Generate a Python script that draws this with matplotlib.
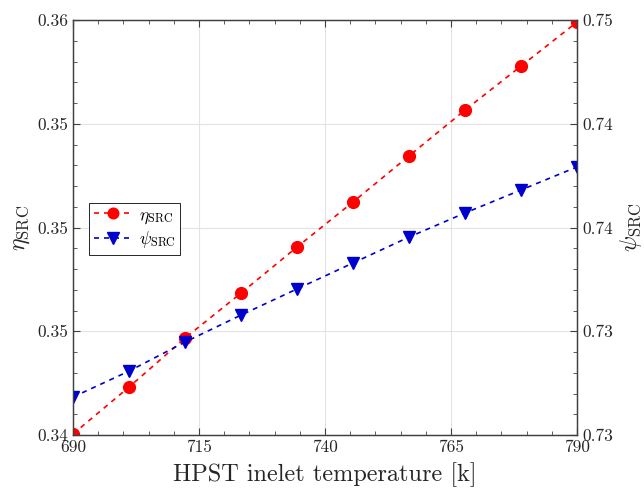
import matplotlib.pyplot as plt
import numpy as np
from matplotlib.ticker import MultipleLocator

plt.rcParams['font.family'] = ['cmr10', 'DejaVu Serif']
plt.rcParams['mathtext.fontset'] = 'cm'
plt.rcParams['axes.formatter.use_mathtext'] = True

# data
temp = np.linspace(690, 790, 10)
eta = [0.34005, 0.34231, 0.34467, 0.34684, 0.34906,
       0.35123, 0.35345, 0.35566, 0.35778, 0.35990]
psi = [0.73183, 0.73308, 0.73448, 0.73578, 0.73704,
       0.73829, 0.73954, 0.74070, 0.74181, 0.74292]

x_ticks = [690, 715, 740, 765, 790]
eta_ticks = [0.340, 0.345, 0.350, 0.355, 0.360]
eta_labels = ['0.34', '0.35', '0.35', '0.35', '0.36']
psi_ticks = [0.730, 0.735, 0.740, 0.745, 0.750]
psi_labels = ['0.73', '0.73', '0.74', '0.74', '0.75']

fig = plt.figure(figsize=(6.44, 4.94), dpi=100)
ax = fig.add_axes([0.1134, 0.1194, 0.7826, 0.8401])
ax2 = ax.twinx()

axcol = '#404040'

l1, = ax.plot(temp, eta, '--o', color='#ff0000', markersize=8.5, linewidth=1.2,
              dashes=(3, 3), label=r'$\eta_{\rm SRC}$')
l2, = ax2.plot(temp, psi, '--v', color='#0000cc', markersize=9, linewidth=1.2,
               dashes=(3, 3), label=r'$\psi_{\rm SRC}$')

ax.set_xlim(690, 790)
ax.set_ylim(0.34, 0.36)
ax2.set_ylim(0.73, 0.75)

ax.set_xticks(x_ticks)
ax.set_xticklabels([str(t) for t in x_ticks])
ax.set_yticks(eta_ticks)
ax.set_yticklabels(eta_labels)
ax2.set_yticks(psi_ticks)
ax2.set_yticklabels(psi_labels)

ax.xaxis.set_minor_locator(MultipleLocator(5))
ax.yaxis.set_minor_locator(MultipleLocator(0.001))
ax2.yaxis.set_minor_locator(MultipleLocator(0.001))

ax.tick_params(axis='x', which='both', direction='in', top=True, bottom=True,
               colors=axcol, labelcolor='#262626', labelsize=12.5)
ax.tick_params(axis='y', which='both', direction='in', left=True, right=False,
               colors=axcol, labelcolor='#262626', labelsize=12.5)
ax2.tick_params(axis='y', which='both', direction='in', right=True, left=False,
                colors=axcol, labelcolor='#262626', labelsize=12.5)
ax.tick_params(which='major', length=5, width=0.8)
ax.tick_params(which='minor', length=3, width=0.6)
ax2.tick_params(which='major', length=5, width=0.8)
ax2.tick_params(which='minor', length=3, width=0.6)

for a in (ax, ax2):
    for s in a.spines.values():
        s.set_color(axcol)
        s.set_linewidth(0.9)

ax.grid(True, which='major', color='#e3e3e3', linewidth=0.8)
ax.set_axisbelow(True)

ax.set_xlabel('HPST inelet temperature [k]', fontsize=17.5, color='#262626', labelpad=5)
ax.set_ylabel(r'$\eta_{\rm SRC}$', fontsize=17, color='#262626', labelpad=4)
ax2.set_ylabel(r'$\psi_{\rm SRC}$', fontsize=17, color='#262626', labelpad=4)

leg = ax2.legend(handles=[l1, l2], loc='center left', bbox_to_anchor=(0.015, 0.497),
                 fontsize=12.5, fancybox=False, framealpha=1, edgecolor='#262626',
                 handlelength=2.2, borderpad=0.25, labelspacing=0.2, handletextpad=0.4,
                 markerscale=0.9)
leg.get_frame().set_linewidth(0.7)

fig.savefig('out.png', dpi=100)
